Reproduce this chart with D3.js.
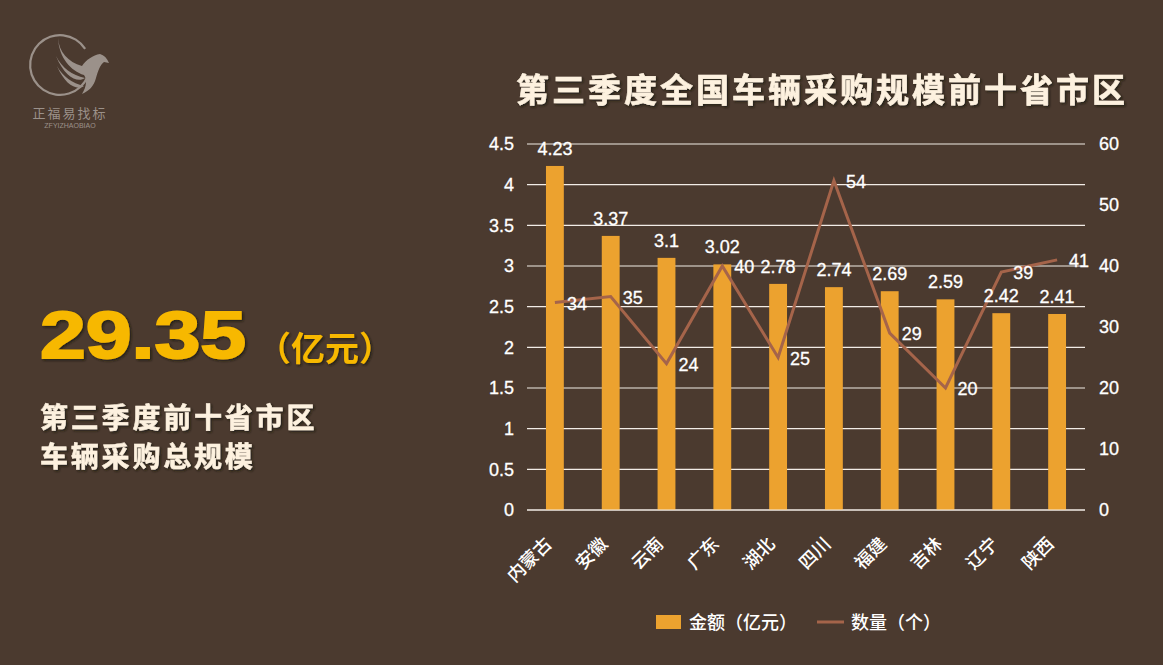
<!DOCTYPE html>
<html><head><meta charset="utf-8">
<script src="https://cdn.jsdelivr.net/npm/d3@7"></script>
<style>
html,body{margin:0;padding:0;background:#4b3a2f;}
svg{display:block;}
text{font-family:"Liberation Sans","Noto Sans CJK SC",sans-serif;}
.cjk{font-family:"Noto Sans CJK SC","Liberation Sans",sans-serif;}
</style></head>
<body>
<svg id="c" width="1163" height="665"></svg>
<script>
const categories = ["内蒙古","安徽","云南","广东","湖北","四川","福建","吉林","辽宁","陕西"];
const amounts = [4.23,3.37,3.1,3.02,2.78,2.74,2.69,2.59,2.42,2.41];
const counts = [34,35,24,40,25,54,29,20,39,41];
const leftTicks = [0,0.5,1,1.5,2,2.5,3,3.5,4,4.5];
const rightTicks = [0,10,20,30,40,50,60];
const totalValue = "29.35";

const svg = d3.select("#c");
svg.append("rect").attr("width",1163).attr("height",665).attr("fill","#4b3a2f");
const defs = svg.append("defs");
const f = defs.append("filter").attr("id","sh").attr("x","-10%").attr("y","-30%").attr("width","120%").attr("height","160%");
f.append("feDropShadow").attr("dx",1.5).attr("dy",1.5).attr("stdDeviation",1).attr("flood-color","#1e140e").attr("flood-opacity",0.8);

// Logo
const logoCol = "#9b918a";
const arc = d3.arc().innerRadius(28.8).outerRadius(31).startAngle(1.95).endAngle(2*Math.PI+1.0);
svg.append("path").attr("d",arc()).attr("transform","translate(60,65)").attr("fill",logoCol);
const wing = svg.append("g").attr("fill",logoCol);
wing.append("path").attr("d","M58,38 C59,52 68,62 82,66 C86,60 93,55 100,54 C104,55 107,58 109,63 L104,62 C100,65 98,71 96,78 C94,86 89,91 82,94 C87,86 87,79 84,75 C71,71 59,58 58,38 Z");
wing.append("path").attr("d","M56,56 C62,68 72,75 85,78 C78,83 65,78 56,56 Z");
wing.append("path").attr("d","M57,66 C63,77 72,83 84,86 C77,91 65,85 57,66 Z");
svg.append("text").attr("class","cjk").attr("x",70).attr("y",118).attr("text-anchor","middle")
  .attr("font-size",13).attr("fill",logoCol).attr("letter-spacing",2).text("正福易找标");
svg.append("text").attr("x",70).attr("y",128).attr("text-anchor","middle")
  .attr("font-size",7).attr("fill",logoCol).text("ZFYIZHAOBIAO");

// Title
svg.append("text").attr("class","cjk").attr("x",822).attr("y",102).attr("text-anchor","middle")
  .attr("font-size",33).attr("font-weight",700).attr("fill","#fdf1df").attr("letter-spacing",3)
  .attr("stroke","#fdf1df").attr("stroke-width",0.6)
  .attr("filter","url(#sh)").text("第三季度全国车辆采购规模前十省市区");

// Left summary
svg.append("text").attr("x",40).attr("y",358).attr("font-size",67).attr("font-weight",700)
  .attr("textLength",206).attr("lengthAdjust","spacingAndGlyphs")
  .attr("fill","#f7b800").attr("stroke","#f7b800").attr("stroke-width",2)
  .attr("filter","url(#sh)").text(totalValue);
svg.append("text").attr("class","cjk").attr("x",257).attr("y",361).attr("font-size",34).attr("font-weight",700)
  .attr("fill","#f7b800").attr("filter","url(#sh)").text("（亿元）");
svg.append("text").attr("class","cjk").attr("x",40).attr("y",428).attr("font-size",28).attr("font-weight",700)
  .attr("letter-spacing",2.8).attr("stroke","#fdf1df").attr("stroke-width",0.5)
  .attr("fill","#fdf1df").attr("filter","url(#sh)").text("第三季度前十省市区");
svg.append("text").attr("class","cjk").attr("x",40).attr("y",467).attr("font-size",28).attr("font-weight",700)
  .attr("letter-spacing",2.8).attr("stroke","#fdf1df").attr("stroke-width",0.5)
  .attr("fill","#fdf1df").attr("filter","url(#sh)").text("车辆采购总规模");

// Chart
const x0 = 527, x1 = 1085, yTop = 144, yBot = 510;
const x = d3.scaleBand().domain(categories).range([x0,x1]).paddingInner(0.68).paddingOuter(0.34);
const yL = d3.scaleLinear().domain([0,4.5]).range([yBot,yTop]);
const yR = d3.scaleLinear().domain([0,60]).range([yBot,yTop]);
const cx = d => x(d)+x.bandwidth()/2;

const g = svg.append("g");
g.selectAll(".grid").data(leftTicks).join("line")
  .attr("x1",x0).attr("x2",x1).attr("y1",d=>yL(d)).attr("y2",d=>yL(d))
  .attr("stroke","#f2ece6").attr("stroke-width",1.2);

const axL = d3.axisLeft(yL).tickValues(leftTicks).tickSize(0).tickPadding(13).tickFormat(d=>d3.format("")(d));
const gl = g.append("g").attr("transform",`translate(${x0},0)`).call(axL);
gl.select(".domain").remove();
gl.selectAll("text").attr("font-size",18).attr("fill","#ffffff").attr("stroke","#ffffff").attr("stroke-width",0.3).attr("font-family","Liberation Sans, sans-serif");

const axR = d3.axisRight(yR).tickValues(rightTicks).tickSize(0).tickPadding(14);
const gr = g.append("g").attr("transform",`translate(${x1},0)`).call(axR);
gr.select(".domain").remove();
gr.selectAll("text").attr("font-size",18).attr("fill","#ffffff").attr("stroke","#ffffff").attr("stroke-width",0.3).attr("font-family","Liberation Sans, sans-serif");

g.selectAll(".bar").data(categories).join("rect")
  .attr("x",d=>x(d)).attr("width",x.bandwidth())
  .attr("y",(d,i)=>yL(amounts[i])).attr("height",(d,i)=>yBot-yL(amounts[i]))
  .attr("fill","#eca22f");
g.append("line").attr("x1",x0).attr("x2",x1).attr("y1",yBot).attr("y2",yBot).attr("stroke","#f2ece6").attr("stroke-width",1.2);

const line = d3.line().x((d,i)=>cx(categories[i])).y(d=>yR(d));
g.append("path").datum(counts).attr("d",line).attr("fill","none")
  .attr("stroke","#a5644a").attr("stroke-width",3).attr("stroke-linejoin","miter");

g.selectAll(".bl").data(categories).join("text")
  .attr("x",d=>cx(d)).attr("y",(d,i)=>yL(amounts[i])-11).attr("text-anchor","middle")
  .attr("font-size",18).attr("fill","#ffffff").attr("stroke","#ffffff").attr("stroke-width",0.3).text((d,i)=>amounts[i]);
g.selectAll(".ll").data(categories).join("text")
  .attr("x",d=>cx(d)+12).attr("y",(d,i)=>yR(counts[i])+7)
  .attr("font-size",18).attr("fill","#ffffff").attr("stroke","#ffffff").attr("stroke-width",0.3).text((d,i)=>counts[i]);

g.selectAll(".xl").data(categories).join("text").attr("class","cjk")
  .attr("transform",d=>`translate(${cx(d)-2},${yBot+35}) rotate(-45)`)
  .attr("text-anchor","end").attr("font-size",18).attr("font-weight",500).attr("fill","#ffffff").text(d=>d);

const lg = svg.append("g");
lg.append("rect").attr("x",656).attr("y",615).attr("width",25).attr("height",14).attr("fill","#eca22f");
lg.append("text").attr("class","cjk").attr("x",689).attr("y",629).attr("font-size",18).attr("font-weight",500).attr("fill","#ffffff").text("金额（亿元）");
lg.append("line").attr("x1",817).attr("x2",844).attr("y1",622).attr("y2",622).attr("stroke","#a5644a").attr("stroke-width",3);
lg.append("text").attr("class","cjk").attr("x",851).attr("y",629).attr("font-size",18).attr("font-weight",500).attr("fill","#ffffff").text("数量（个）");
</script>
</body></html>
